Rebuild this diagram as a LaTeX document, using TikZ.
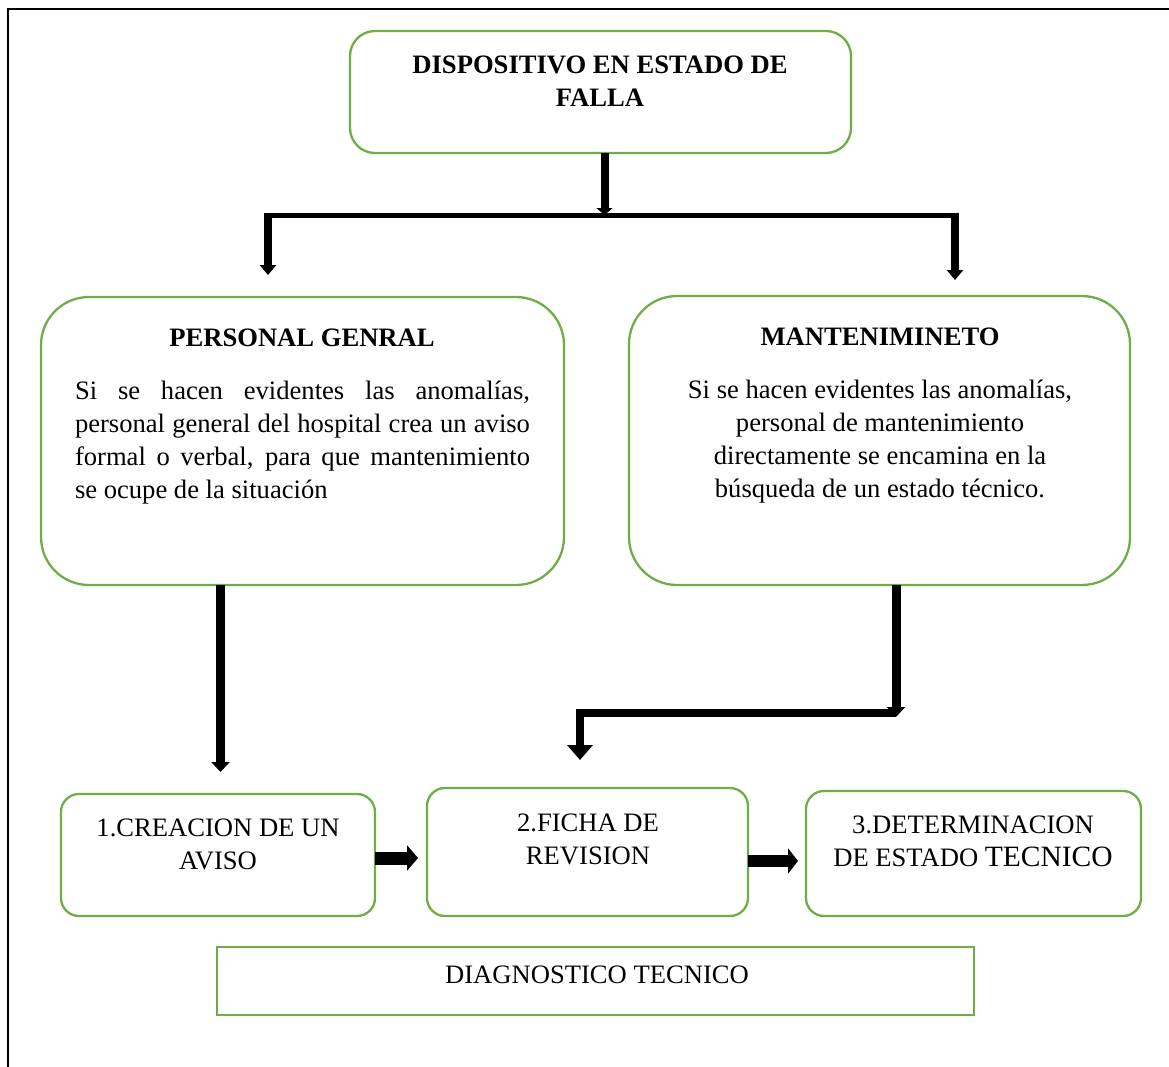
\documentclass[tikz,border=0pt]{standalone}
\usepackage{fontspec}
\setmainfont{Liberation Serif}
\usepackage{tikz}
\usetikzlibrary{arrows.meta}
\definecolor{leaf}{HTML}{70AD47}
\tikzset{box/.style={draw=leaf, line width=2.3pt, inner sep=0pt, outer sep=0pt, anchor=north west}}
\tikzset{rbox/.style={box, rounded corners=#1}}
\tikzset{txt/.style={inner sep=0pt, align=center, font=\fontsize{26.6}{33}\selectfont}}
\tikzset{btxt/.style={txt, font=\fontsize{26.6}{33}\selectfont\bfseries}}
\tikzset{pipe/.style={line width=#1}}
\tikzset{frame/.style={line width=2pt, line cap=rect}}
\newcommand{\jline}[1]{\makebox[455pt][s]{#1}}
\begin{document}
\begin{tikzpicture}[x=1pt, y=-1pt]
	\useasboundingbox (0,0) rectangle (1169,1066);
	\draw [frame] (8,1066) -- (8,9) -- (1169,9);
	% boxes
	\node [rbox=25pt, minimum width=501pt, minimum height=122pt] (dis) at (350,31) {};
	\node [rbox=48pt, minimum width=523pt, minimum height=288pt] (gen) at (41,297) {};
	\node [rbox=48pt, minimum width=501pt, minimum height=289pt] (man) at (629,296) {};
	\node [rbox=18pt, minimum width=314pt, minimum height=122pt] (b1) at (61,794) {};
	\node [rbox=18pt, minimum width=321pt, minimum height=128pt] (b2) at (427,788) {};
	\node [rbox=18pt, minimum width=335pt, minimum height=125pt] (b3) at (806,791) {};
	\node [box, line width=2.8pt, minimum width=757pt, minimum height=68pt] (diag) at (217,947) {};
	% texts
	\node [btxt] (disT) at (600,81) {DISPOSITIVO EN ESTADO DE\\FALLA};
	\node [btxt] (genT) at (302,338) {PERSONAL GENRAL};
	\node [btxt] (manT) at (880,337) {MANTENIMINETO};
	\node [txt, align=left] (genB) at (302.5,443) {\jline{Si se hacen evidentes las anomalías,}\\
		\jline{personal general del hospital crea un aviso}\\
		\jline{formal o verbal, para que mantenimiento}\\
		se ocupe de la situación};
	\node [txt] (manB) at (880,442) {Si se hacen evidentes las anomalías,\\
		personal de mantenimiento\\
		directamente se encamina en la\\
		búsqueda de un estado técnico.};
	\node [txt] (b1T) at (218,844) {1.CREACION DE UN\\AVISO};
	\node [txt] (b2T) at (588,839) {2.FICHA DE\\REVISION};
	\node [txt] (b3T) at (973,841.5) {3.DETERMINACION\\DE ESTADO {\fontsize{29.5}{33}\selectfont TECNICO}};
	\node [txt] (diagT) at (597,975) {DIAGNOSTICO TECNICO};
	% connectors
	\coordinate (lt) at (264,215);
	\coordinate (rt) at (959,215);
	\coordinate (ldrop) at (268,215);
	\coordinate (rdrop) at (955,215);
	\coordinate (bend) at (896,713);
	\draw [pipe=8pt, -{Triangle[width=16pt, length=7pt]}] ([xshift=4pt]dis.south) to ([xshift=4pt]dis.south |- lt);
	\draw [pipe=5pt] (lt) to (rt);
	\draw [pipe=8pt, -{Triangle[width=16pt, length=10pt]}, shorten >=22pt] (ldrop) to (ldrop |- gen.north);
	\draw [pipe=8pt, -{Triangle[width=16pt, length=10pt]}, shorten >=16pt] (rdrop) to (rdrop |- man.north);
	\draw [pipe=9pt, -{Triangle[width=18pt, length=10pt]}, shorten >=22pt] ([xshift=-82pt]gen.south) to ([xshift=-82pt]gen.south |- b1.north);
	\draw [pipe=9pt, -{Triangle[width=18pt, length=10pt]}] ([xshift=16.5pt]man.south) to ([yshift=-4pt]bend);
	\draw [pipe=8pt, -{Triangle[width=25pt, length=15pt]}, shorten >=28pt] (bend) -| ([xshift=-7.5pt]b2.north);
	\draw [pipe=13pt, -{Triangle[width=25pt, length=11pt]}, shorten >=9pt] ([yshift=-3pt]b1.east) to ([yshift=-3pt]b1.east -| b2.west);
	\draw [pipe=12pt, -{Triangle[width=25pt, length=10pt]}, shorten >=8pt] ([yshift=-9pt]b2.east) to ([yshift=-9pt]b2.east -| b3.west);
\end{tikzpicture}
\end{document}
